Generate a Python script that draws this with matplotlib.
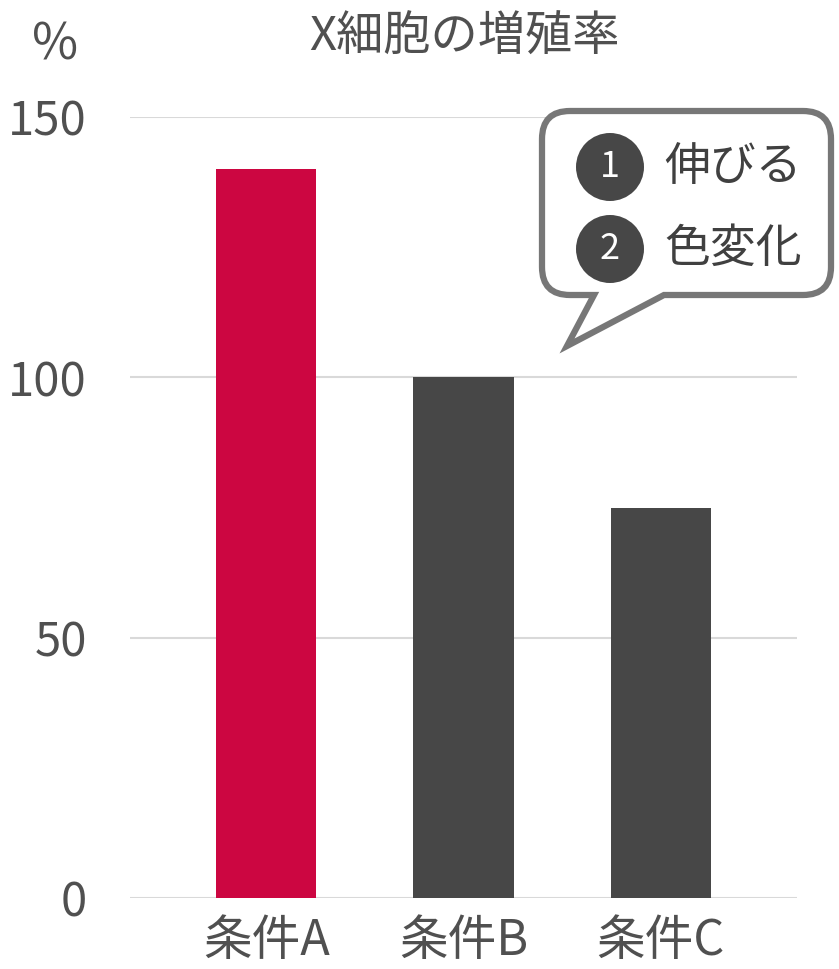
import matplotlib
matplotlib.use("Agg")
import matplotlib.pyplot as plt
from matplotlib.path import Path
from matplotlib.patches import PathPatch, Circle

plt.rcParams['font.family'] = ['Noto Sans CJK JP', 'DejaVu Sans']

# data
categories = ["条件A", "条件B", "条件C"]
values = [140, 100, 75]
bar_colors = ["#CC0641", "#474747", "#474747"]
y_ticks = [0, 50, 100, 150]
title = "X細胞の増殖率"
unit = "%"
callout_items = [("1", "伸びる"), ("2", "色変化")]

W, H, DPI = 839, 969, 100
TEXT = "#505050"

fig = plt.figure(figsize=(W / DPI, H / DPI), dpi=DPI)
ax = fig.add_axes([130 / W, 1 - 898 / H, (797 - 130) / W, (898 - 117) / H])

x = list(range(len(categories)))
ax.bar(x, values, width=0.51, color=bar_colors, zorder=3)
ax.set_xlim(-0.69, len(categories) - 1 + 0.69)
ax.set_ylim(0, 150)
ax.set_yticks(y_ticks)
ax.set_xticks(x)
ax.set_xticklabels(categories)
ax.grid(axis="y", color="#D9D9D9", linewidth=1.5, zorder=0)
ax.tick_params(axis="y", length=0, pad=31, labelsize=34, labelcolor=TEXT)
ax.tick_params(axis="x", length=0, pad=13, labelsize=35, labelcolor=TEXT)
for s in ax.spines.values():
    s.set_visible(False)
for t in ax.get_yticklabels():
    t.set_clip_on(False)

fig.text(464 / W, 1 - 38 / H, title, ha="center", va="center", fontsize=34, color=TEXT)
fig.text(55 / W, 1 - 45 / H, unit, ha="center", va="center", fontsize=36, color=TEXT)


# speech bubble, drawn in pixel units converted to inches
def inch(px, py):
    return (px / DPI, (H - py) / DPI)


x0, x1, y0, y1, r = 542, 831, 111, 295, 28
tail_l, tail_r, tip = 594, 664, (567, 346)
pts = [
    ((x0 + r, y0), Path.MOVETO),
    ((x1 - r, y0), Path.LINETO),
    ((x1, y0), Path.CURVE3), ((x1, y0 + r), Path.CURVE3),
    ((x1, y1 - r), Path.LINETO),
    ((x1, y1), Path.CURVE3), ((x1 - r, y1), Path.CURVE3),
    ((tail_r, y1), Path.LINETO),
    (tip, Path.LINETO),
    ((tail_l, y1), Path.LINETO),
    ((x0 + r, y1), Path.LINETO),
    ((x0, y1), Path.CURVE3), ((x0, y1 - r), Path.CURVE3),
    ((x0, y0 + r), Path.LINETO),
    ((x0, y0), Path.CURVE3), ((x0 + r, y0), Path.CURVE3),
    ((x0 + r, y0), Path.CLOSEPOLY),
]
bubble = Path([inch(*p) for p, _ in pts], [c for _, c in pts])
fig.add_artist(PathPatch(bubble, facecolor="white", edgecolor="#777777",
                         linewidth=4.5, transform=fig.dpi_scale_trans, zorder=5))

for i, (num, label) in enumerate(callout_items):
    cy = 167 + i * 82
    fig.add_artist(Circle(inch(610, cy), 34 / DPI, facecolor="#474747", edgecolor="none",
                          transform=fig.dpi_scale_trans, zorder=6))
    fig.text(610 / W, 1 - cy / H, num, ha="center", va="center", fontsize=26,
             color="white", zorder=7)
    fig.text(664 / W, 1 - cy / H, label, ha="left", va="center", fontsize=33,
             color="#404040", zorder=7)

fig.savefig("out.png", dpi=DPI)
